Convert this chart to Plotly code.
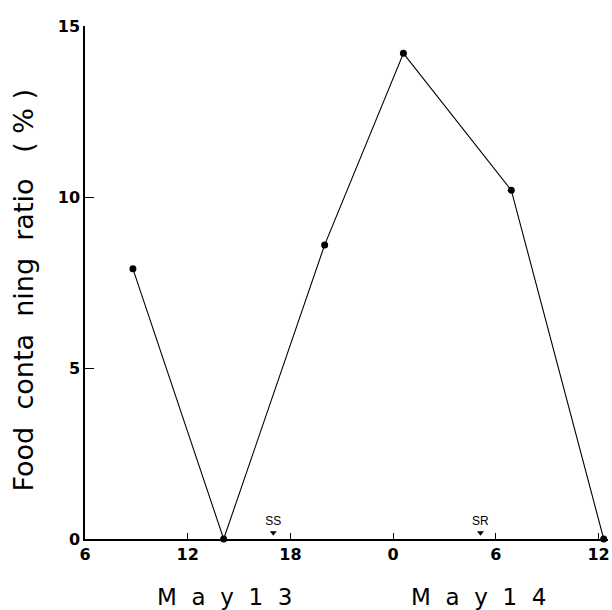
import plotly.graph_objects as go

# Data (hours since 00:00 May 13)
hours = [8.8, 14.1, 20.0, 24.6, 30.9, 36.3]
ratio = [7.9, 0.0, 8.6, 14.2, 10.2, 0.0]

tick_vals = [6, 12, 18, 24, 30, 36]
tick_text = ["6", "12", "18", "0", "6", "12"]
y_ticks = [0, 5, 10, 15]

sun_labels = ["SS", "SR"]
sun_hours = [17.0, 29.1]

day_labels = ["M  a  y  1  3", "M  a  y  1  4"]
day_centers = [14.17, 29.0]

fig = go.Figure()
fig.add_trace(go.Scatter(
    x=hours, y=ratio, mode="lines+markers",
    line=dict(color="black", width=1.1),
    marker=dict(color="black", size=7),
    cliponaxis=False, showlegend=False,
))
fig.add_trace(go.Scatter(
    x=sun_hours, y=[0.18] * len(sun_hours), mode="markers+text",
    text=sun_labels, textposition="top center",
    textfont=dict(family="Arial", size=12, color="black"),
    marker=dict(symbol="triangle-down", color="black", size=6),
    cliponaxis=False, showlegend=False,
))

for lab, xc in zip(day_labels, day_centers):
    fig.add_annotation(x=xc, xref="x", y=-0.113, yref="paper", text=lab,
                       showarrow=False, xanchor="center", yanchor="middle",
                       font=dict(family="DejaVu Sans", size=23, color="black"))

fig.add_annotation(x=-0.118, xref="paper", y=0.485, yref="paper",
                   text="Food  conta  ning  ratio   ( % )", textangle=-90,
                   showarrow=False, xanchor="center", yanchor="middle",
                   font=dict(family="DejaVu Sans", size=27, color="black"))

tick_font = dict(family="DejaVu Sans", size=16, color="black", weight="bold")

fig.update_layout(
    width=612, height=610,
    margin=dict(l=85, r=2, t=26, b=71),
    plot_bgcolor="white", paper_bgcolor="white",
    xaxis=dict(range=[6, 36.55], tickvals=tick_vals, ticktext=tick_text,
               ticks="inside", ticklen=6, tickwidth=1, tickcolor="black",
               showline=True, linecolor="black", linewidth=1.5,
               showgrid=False, zeroline=False, tickfont=tick_font),
    yaxis=dict(range=[0, 15], tickvals=y_ticks,
               ticks="inside", ticklen=9, tickwidth=1, tickcolor="black",
               showline=True, linecolor="black", linewidth=1.5,
               showgrid=False, zeroline=False, tickfont=tick_font),
)

fig.write_html("out.html", config={"displayModeBar": False},
               post_script="document.body.style.margin='0px';")
